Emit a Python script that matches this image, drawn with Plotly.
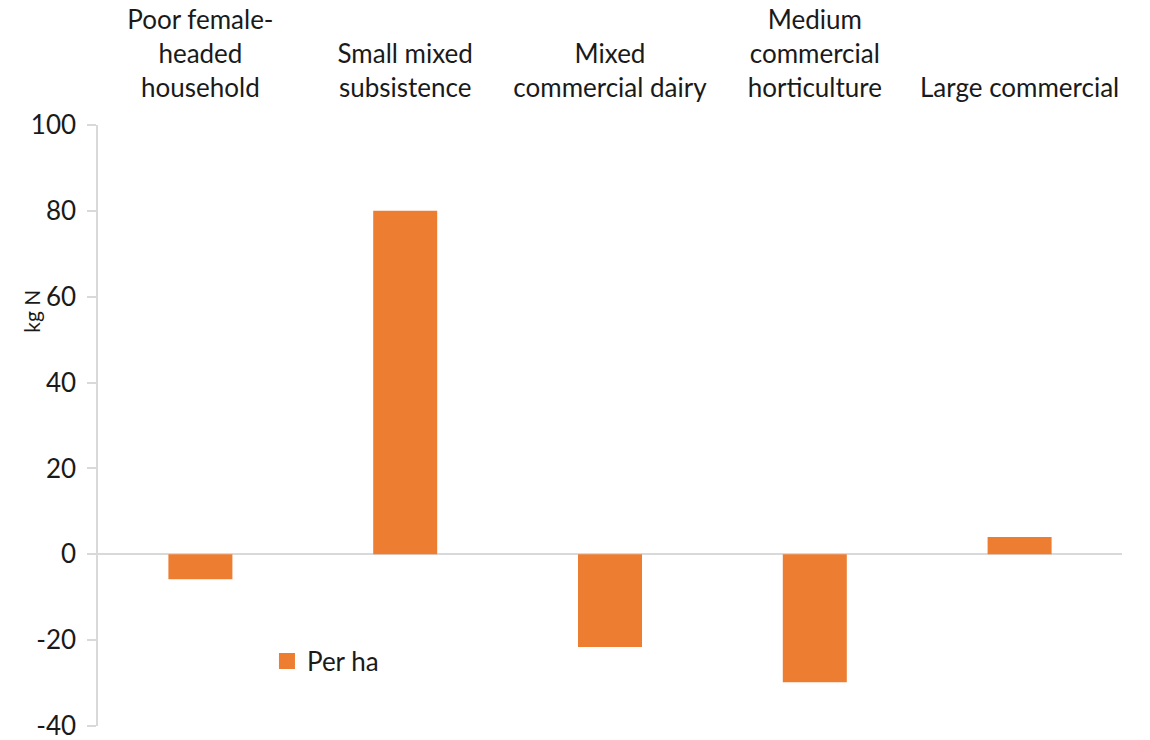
import plotly.graph_objects as go

# Nitrogen balance per hectare for each farm type
farm_types = [
    "Poor female-<br>headed<br>household",
    "Small mixed<br>subsistence",
    "Mixed<br>commercial dairy",
    "Medium<br>commercial<br>horticulture",
    "Large commercial",
]
per_ha = [-5.8, 80.0, -21.6, -29.8, 4.0]
y_ticks = [-40, -20, 0, 20, 40, 60, 80, 100]
y_tick_labels = ["-40", "-20", "0", "20", "40", "60", "80", "100"]

ORANGE = "#ED7D31"
AXIS_GREY = "#D9D9D9"
TEXT = "#1a1a1a"
FONT = "Lato, 'Open Sans', sans-serif"
SIZE = 26

fig = go.Figure()
fig.add_trace(go.Bar(
    x=farm_types,
    y=per_ha,
    name="Per ha",
    showlegend=False,
    marker=dict(color=ORANGE, line=dict(width=0)),
))
# legend entry with a larger square swatch
fig.add_trace(go.Scatter(
    x=[None], y=[None],
    mode="markers",
    name="Per ha",
    marker=dict(symbol="square", size=16, color=ORANGE),
    showlegend=True,
))

fig.update_layout(
    width=1150,
    height=740,
    margin=dict(l=98, r=28, t=125, b=14, autoexpand=False),
    paper_bgcolor="white",
    plot_bgcolor="white",
    font=dict(family=FONT, size=SIZE, color=TEXT),
    bargap=0.6875,
    showlegend=True,
    legend=dict(
        x=0.165, y=0.108, xanchor="left", yanchor="middle",
        bgcolor="rgba(0,0,0,0)",
        itemwidth=30,
        font=dict(family=FONT, size=SIZE, color=TEXT),
    ),
    xaxis=dict(
        side="top",
        showline=False,
        showgrid=False,
        ticks="",
        automargin=False,
        tickfont=dict(family=FONT, size=SIZE, color=TEXT),
        ticklabelstandoff=22,
    ),
    yaxis=dict(
        range=[-40, 100],
        tickvals=y_ticks,
        ticktext=y_tick_labels,
        automargin=False,
        ticklabeloverflow="allow",
        showgrid=False,
        showline=True,
        linecolor=AXIS_GREY,
        linewidth=1.5,
        ticks="outside",
        ticklen=9,
        tickcolor=AXIS_GREY,
        tickwidth=1.5,
        zeroline=True,
        zerolinecolor=AXIS_GREY,
        zerolinewidth=1.5,
        tickfont=dict(family=FONT, size=SIZE, color=TEXT),
        ticklabelstandoff=6,
    ),
    # overlay axis that draws the inner half of each tick mark
    yaxis2=dict(
        overlaying="y",
        side="left",
        range=[-40, 100],
        tickvals=y_ticks,
        automargin=False,
        showgrid=False,
        showline=False,
        zeroline=False,
        ticks="inside",
        ticklen=9,
        tickcolor=AXIS_GREY,
        tickwidth=1.5,
        showticklabels=False,
    ),
)

fig.add_annotation(
    text="kg N",
    xref="paper", yref="paper",
    x=-0.065, y=0.69,
    xanchor="center", yanchor="middle",
    textangle=-90,
    showarrow=False,
    font=dict(family=FONT, size=21, color=TEXT),
)

fig.write_html("out.html")
